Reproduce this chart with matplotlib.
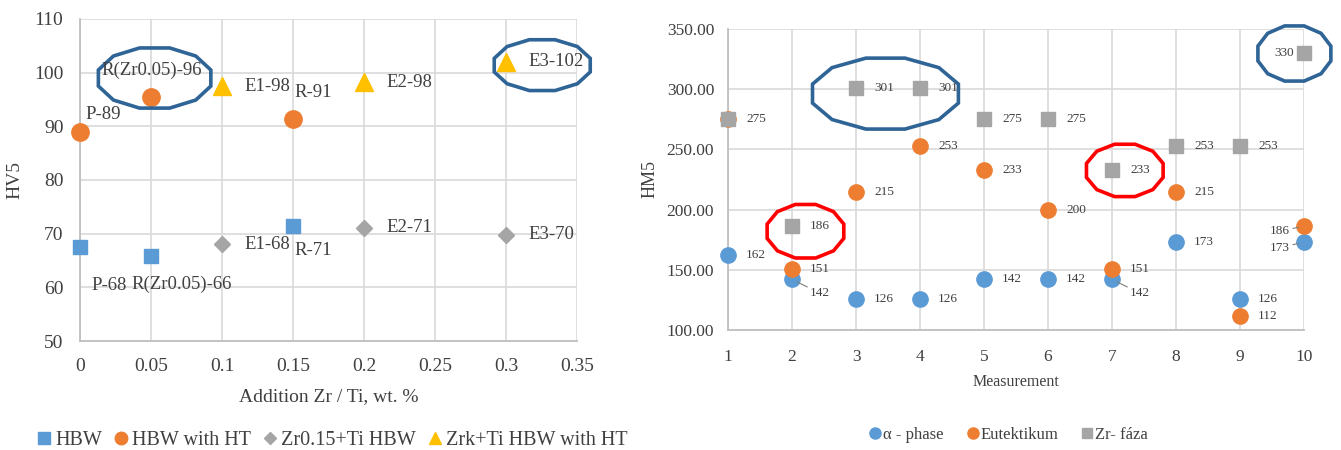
import numpy as np
import matplotlib
matplotlib.use("Agg")
import matplotlib.pyplot as plt
from matplotlib.patches import Polygon
from matplotlib.lines import Line2D

plt.rcParams['font.family'] = ['Liberation Serif', 'DejaVu Serif']

# ---------------- Left chart data ----------------
hbw_x = [0, 0.05, 0.15]
hbw_y = [67.6, 65.9, 71.5]
hbw_lbl = ['P-68', 'R(Zr0.05)-66', 'R-71']

hbwht_x = [0, 0.05, 0.15]
hbwht_y = [89.0, 95.5, 91.3]
hbwht_lbl = ['P-89', 'R(Zr0.05)-96', 'R-91']

zr_x = [0.1, 0.2, 0.3]
zr_y = [68.0, 71.1, 69.8]
zr_lbl = ['E1-68', 'E2-71', 'E3-70']

zrk_x = [0.1, 0.2, 0.3]
zrk_y = [97.5, 98.2, 102.0]
zrk_lbl = ['E1-98', 'E2-98', 'E3-102']

left_legend = ['HBW', 'HBW with HT', 'Zr0.15+Ti HBW', 'Zrk+Ti HBW with HT']
left_xticks = [0, 0.05, 0.1, 0.15, 0.2, 0.25, 0.3, 0.35]
left_xticklabels = ['0', '0.05', '0.1', '0.15', '0.2', '0.25', '0.3', '0.35']
left_yticks = [50, 60, 70, 80, 90, 100, 110]

# ---------------- Right chart data ----------------
measurement = [1, 2, 3, 4, 5, 6, 7, 8, 9, 10]
alpha_phase = [162, 142, 126, 126, 142, 142, 142, 173, 126, 173]
eutektikum = [275, 151, 215, 253, 233, 200, 151, 215, 112, 186]
zr_faza = [275, 186, 301, 301, 275, 275, 233, 253, 253, 330]
right_legend = ['\u03b1 - phase', 'Eutektikum', 'Zr- f\u00e1za']
right_yticks = [100, 150, 200, 250, 300, 350]

BLUE = '#5B9BD5'
ORANGE = '#ED7D31'
GREY = '#A5A5A5'
YELLOW = '#FFC000'
RING = '#2F6496'
RED = '#FF0000'
GRID = '#D9D9D9'
AXC = '#BFBFBF'
TXT = '#404040'

fig = plt.figure(figsize=(13.41, 4.5), dpi=100)


def ring(ax, cx, cy, hw, hh, color, lw=2.6):
    ang = np.deg2rad(np.arange(15, 375, 30))
    pts = np.column_stack([cx + hw * np.cos(ang), cy + hh * np.sin(ang)])
    p = Polygon(pts, closed=True, fill=False, edgecolor=color, lw=lw,
                clip_on=False, zorder=6)
    ax.add_patch(p)


def style_axes(ax):
    ax.grid(True, color=GRID, lw=1.2)
    ax.set_axisbelow(True)
    for s in ['top', 'right']:
        ax.spines[s].set_visible(False)
    for s in ['left', 'bottom']:
        ax.spines[s].set_color(AXC)
        ax.spines[s].set_linewidth(1.3)
    ax.tick_params(length=0, colors=TXT)


# ================= LEFT =================
ax1 = fig.add_axes([0.0597, 0.2422, 0.3706, 0.7156])
style_axes(ax1)
ax1.set_xlim(0, 0.35)
ax1.set_ylim(50, 110)
ax1.set_xticks(left_xticks)
ax1.set_xticklabels(left_xticklabels)
ax1.set_yticks(left_yticks)
ax1.tick_params(axis='x', pad=12, labelsize=14)
ax1.tick_params(axis='y', pad=12, labelsize=14)

ax1.plot(hbw_x, hbw_y, 's', color=BLUE, ms=10.5, ls='none', clip_on=False, zorder=4)
ax1.plot(hbwht_x, hbwht_y, 'o', color=ORANGE, ms=12.5, ls='none', clip_on=False, zorder=4)
ax1.plot(zr_x, zr_y, 'D', color=GREY, ms=8.5, ls='none', clip_on=False, zorder=4)
ax1.plot(zrk_x, zrk_y, '^', color=YELLOW, ms=13, ls='none', clip_on=False, zorder=4)

lfs = 13.5
hbw_off = [((8, -28), 'left'), ((22, -21), 'center'), ((0.7, -18), 'left')]
for x, y, t, (off, ha) in zip(hbw_x, hbw_y, hbw_lbl, hbw_off):
    ax1.annotate(t, (x, y), xytext=off, textcoords='offset points',
                 ha=ha, va='center', fontsize=lfs, color=TXT, zorder=7)
hbwht_off = [((3.6, 12.2), 'left'), ((0.7, 18.7), 'center'), ((0.7, 19.4), 'left')]
for x, y, t, (off, ha) in zip(hbwht_x, hbwht_y, hbwht_lbl, hbwht_off):
    ax1.annotate(t, (x, y), xytext=off, textcoords='offset points',
                 ha=ha, va='center', fontsize=lfs, color=TXT, zorder=7)
for x, y, t in zip(zr_x, zr_y, zr_lbl):
    ax1.annotate(t, (x, y), xytext=(16, 0), textcoords='offset points',
                 ha='left', va='center', fontsize=lfs, color=TXT, zorder=7)
for x, y, t in zip(zrk_x, zrk_y, zrk_lbl):
    ax1.annotate(t, (x, y), xytext=(16, 0), textcoords='offset points',
                 ha='left', va='center', fontsize=lfs, color=TXT, zorder=7)

ring(ax1, 0.0525, 99.0, 0.041, 5.8, RING)
ring(ax1, 0.3255, 101.4, 0.035, 4.9, RING)

ax1.set_ylabel('HV5', fontsize=14, color=TXT)
ax1.yaxis.set_label_coords(-0.114, 0.5)
ax1.set_xlabel('Addition Zr / Ti, wt. %', fontsize=14, color=TXT)
ax1.xaxis.set_label_coords(0.5, -0.145)

h1 = [Line2D([], [], marker='s', color=BLUE, ls='none', ms=8),
      Line2D([], [], marker='o', color=ORANGE, ls='none', ms=9),
      Line2D([], [], marker='D', color=GREY, ls='none', ms=6.5),
      Line2D([], [], marker='^', color=YELLOW, ls='none', ms=9)]
fig.legend(h1, left_legend, loc='center', bbox_to_anchor=(0.2475, 0.022),
           ncol=4, frameon=False, fontsize=14.5, handlelength=0.8,
           handletextpad=0.15, columnspacing=0.55, labelcolor=TXT)

# ================= RIGHT =================
ax2 = fig.add_axes([0.5429, 0.2667, 0.4295, 0.669])
style_axes(ax2)
ax2.set_xlim(1, 10)
ax2.set_ylim(100, 350)
ax2.set_xticks(measurement)
ax2.set_yticks(right_yticks)
ax2.yaxis.set_major_formatter(matplotlib.ticker.FormatStrFormatter('%.2f'))
ax2.tick_params(axis='x', pad=14, labelsize=12.5)
ax2.tick_params(axis='y', pad=10, labelsize=12.5)

ax2.plot(measurement, alpha_phase, 'o', color=BLUE, ms=11, ls='none', clip_on=False, zorder=4)
ax2.plot(measurement, eutektikum, 'o', color=ORANGE, ms=11, ls='none', clip_on=False, zorder=4)
ax2.plot(measurement, zr_faza, 's', color=GREY, ms=9.5, ls='none', clip_on=False, zorder=4)

rfs = 9.5
lead = dict(arrowstyle='-', color='#7F7F7F', lw=0.8, shrinkA=0, shrinkB=4)


def rlabel(x, y, off=(13, 0), ha='left', arrow=False):
    ax2.annotate(f'{y:d}', (x, y), xytext=off, textcoords='offset points',
                 ha=ha, va='center', fontsize=rfs, color=TXT, zorder=7,
                 arrowprops=lead if arrow else None)


for x, y in zip(measurement, alpha_phase):
    if x in (2, 7):
        rlabel(x, y, off=(13, -10), arrow=True)
    elif x == 10:
        rlabel(x, y, off=(-10, -4), ha='right', arrow=True)
    else:
        rlabel(x, y)
for x, y in zip(measurement, eutektikum):
    if x == 1:
        continue
    if x == 10:
        rlabel(x, y, off=(-10, -3), ha='right', arrow=True)
    else:
        rlabel(x, y)
for x, y in zip(measurement, zr_faza):
    if x == 10:
        rlabel(x, y, off=(-7, 0), ha='right')
    else:
        rlabel(x, y)

ring(ax2, 3.46, 296.3, 1.18, 30.5, RING)
ring(ax2, 9.85, 329.6, 0.59, 23.7, RING)
ring(ax2, 2.21, 182.0, 0.62, 23.0, RED)
ring(ax2, 7.20, 232.5, 0.62, 22.5, RED)

ax2.set_ylabel('HM5', fontsize=13, color=TXT)
ax2.yaxis.set_label_coords(-0.1215, 0.5)
ax2.set_xlabel('Measurement', fontsize=11.5, color=TXT, labelpad=6)

h2 = [Line2D([], [], marker='o', color=BLUE, ls='none', ms=8),
      Line2D([], [], marker='o', color=ORANGE, ls='none', ms=8),
      Line2D([], [], marker='s', color=GREY, ls='none', ms=7)]
fig.legend(h2, right_legend, loc='center', bbox_to_anchor=(0.752, 0.033),
           ncol=3, frameon=False, fontsize=12, handlelength=0.7,
           handletextpad=0.1, columnspacing=1.4, labelcolor=TXT)

fig.savefig('out.png', dpi=100)
